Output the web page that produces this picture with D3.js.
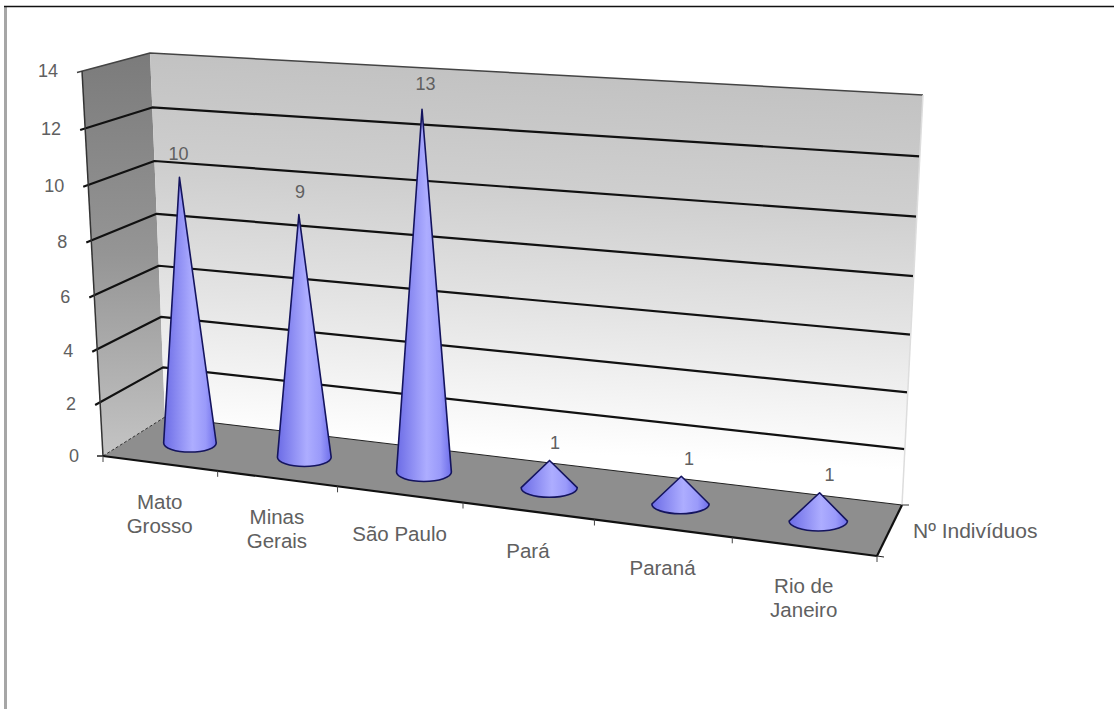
<!DOCTYPE html>
<html>
<head>
<meta charset="utf-8">
<script src="https://cdn.jsdelivr.net/npm/d3@7"></script>
<style>
  html, body { margin: 0; padding: 0; background: #fff; }
  svg { display: block; }
  text { font-family: "Liberation Sans", Arial, sans-serif; fill: #606060; }
</style>
</head>
<body>
<div id="chart"></div>
<script>
// Valeurs du graphique
const categories = ["Mato Grosso", "Minas Gerais", "São Paulo", "Pará", "Paraná", "Rio de Janeiro"];
const categoryLines = [["Mato", "Grosso"], ["Minas", "Gerais"], ["São Paulo"], ["Pará"], ["Paraná"], ["Rio de", "Janeiro"]];
const individuos = [10, 9, 13, 1, 1, 1];
const yTicks = [0, 2, 4, 6, 8, 10, 12, 14];
const seriesName = "Nº Indivíduos";

const width = 1114, height = 709;

const svg = d3.select("#chart").append("svg")
    .attr("width", width)
    .attr("height", height);

// Boite 3D : coins du sol et du plafond [avant-gauche, avant-droit, fond-gauche, fond-droit]
const floorBox = [[103, 456], [877, 556], [165, 417], [902, 505]];
const topBox = [[82, 71], [903, 123], [150, 53], [923, 95]];

// Échelles
const xScale = d3.scaleLinear().domain([0, categories.length]).range([0, 1]);
const yScale = d3.scaleLinear().domain([0, 14]).range([0, 1]);

// raccourci de perspective le long d'un axe
const fore = (t, r) => t / (r - (r - 1) * t);

function bilerp(box, a, w) {
    const f = [box[0][0] + (box[1][0] - box[0][0]) * a, box[0][1] + (box[1][1] - box[0][1]) * a];
    const b = [box[2][0] + (box[3][0] - box[2][0]) * a, box[2][1] + (box[3][1] - box[2][1]) * a];
    return [f[0] + (b[0] - f[0]) * w, f[1] + (b[1] - f[1]) * w];
}

// position écran pour (position sur l'axe x, profondeur, valeur)
function project(x, w, value) {
    const a = fore(xScale(x), 1.15);
    const t = fore(yScale(value), 1.055);
    const p0 = bilerp(floorBox, a, w);
    const p1 = bilerp(topBox, a, w);
    return [p0[0] + (p1[0] - p0[0]) * t, p0[1] + (p1[1] - p0[1]) * t];
}

const n = categories.length;
const line = d3.line();
const defs = svg.append("defs");

function linearGradient(id, coords, stops) {
    const g = defs.append("linearGradient").attr("id", id);
    Object.entries(coords).forEach(([k, v]) => g.attr(k, v));
    stops.forEach(s => g.append("stop").attr("offset", s[0]).attr("stop-color", s[1]));
}

linearGradient("backWall", { gradientUnits: "userSpaceOnUse", x1: 520, y1: 70, x2: 500, y2: 470 },
    [[0, "#c2c2c2"], [0.3, "#cfcfcf"], [0.6, "#e4e4e4"], [0.95, "#ffffff"]]);
linearGradient("sideWall", { x1: 0, y1: 0, x2: 0, y2: 1 },
    [[0, "#7b7b7b"], [0.5, "#959595"], [1, "#c4c4c4"]]);
linearGradient("coneFill", { x1: 0, y1: 0, x2: 1, y2: 0 },
    [[0, "#6c6ce6"], [0.55, "#adadff"], [0.8, "#9a9afa"], [1, "#6e6eea"]]);

// Cadre
svg.append("rect").attr("x", 4).attr("y", 6).attr("width", 3).attr("height", height - 6).attr("fill", "#a6a6a6");
svg.append("line").attr("x1", 4).attr("x2", width).attr("y1", 6.5).attr("y2", 6.5)
    .attr("stroke", "#111").attr("stroke-width", 1.5);

// Parois et sol
const sideWall = [project(0, 0, 14), project(0, 1, 14), project(0, 1, 0), project(0, 0, 0)];
const backWall = [project(0, 1, 14), project(n, 1, 14), project(n, 1, 0), project(0, 1, 0)];
const floor = [project(0, 0, 0), project(n, 0, 0), project(n, 1, 0), project(0, 1, 0)];

svg.append("path").attr("d", line(sideWall) + "Z").attr("fill", "url(#sideWall)");
svg.append("path").attr("d", line(backWall) + "Z").attr("fill", "url(#backWall)");
svg.append("path").attr("d", line(floor) + "Z").attr("fill", "#8e8e8e");

// Lignes horizontales
const grid = svg.append("g").attr("fill", "none").attr("stroke-linejoin", "round");
yTicks.filter(v => v > 0).forEach(v => {
    const pts = [project(0, 0, v), project(0, 1, v), project(n, 1, v)];
    pts[0] = [pts[0][0] - 5, pts[0][1] + 1.5];
    grid.append("path").attr("d", line(pts))
        .attr("stroke", v === 14 ? "#444" : "#111")
        .attr("stroke-width", v === 14 ? 1.5 : 2.2);
});

// Arêtes de la boite
const edge = (a, b, color, sw, dash) => svg.append("line")
    .attr("x1", a[0]).attr("y1", a[1]).attr("x2", b[0]).attr("y2", b[1])
    .attr("stroke", color).attr("stroke-width", sw).attr("stroke-dasharray", dash || null);

edge(project(0, 0, 14), project(0, 0, 0), "#333", 1.5);
edge(project(0, 0, 0), project(0, 1, 0), "#333", 1, "3,2");
edge(project(0, 1, 0), project(n, 1, 0), "#222", 1);
edge(project(n, 1, 14), project(n, 1, 0), "#dddddd", 1.5);
edge(project(0, 0, 0), project(n, 0, 0), "#111", 2.2);
edge(project(n, 0, 0), project(n, 1, 0), "#111", 2.2);

// Graduations
yTicks.forEach(v => {
    const p = project(0, 0, v);
    if (v === 0) edge([p[0] - 6, p[1]], p, "#222", 1.5);
    svg.append("text")
        .attr("x", p[0] - 24)
        .attr("y", p[1])
        .attr("dy", "0.36em")
        .attr("text-anchor", "end")
        .style("font-size", "18px")
        .text(v);
});
d3.range(n + 1).forEach(i => {
    const p = project(i, 0, 0);
    edge(p, [p[0], p[1] + 6], "#444", 1);
});
const br = project(n, 1, 0);
edge(br, [br[0] + 7, br[1]], "#333", 1);
const fr = project(n, 0, 0);
edge(fr, [fr[0] + 7, fr[1] + 1], "#222", 1);

// Étiquettes des catégories
categoryLines.forEach((lines, i) => {
    const p = project(i + 0.5, 0, 0);
    const two = lines.length > 1;
    const label = svg.append("text")
        .attr("text-anchor", "middle")
        .attr("transform", "translate(" + p[0] + "," + (p[1] + (two ? 46 : 47)) + ")")
        .style("font-size", "20.5px");
    lines.forEach((l, k) => label.append("tspan").attr("x", 0).attr("y", k * 24).text(l));
});

svg.append("text").attr("x", 913).attr("y", 538)
    .style("font-size", "21px").text(seriesName);

// Cônes
individuos.forEach((v, i) => {
    const base = project(i + 0.5, 0.51, 0);
    const tip = project(i + 0.5, 0.51, v);
    const rx = 26 + 3.5 * xScale(i + 0.5);
    const ry = 9 + xScale(i + 0.5);
    const d = "M" + tip[0] + "," + tip[1] +
        "L" + (base[0] - rx) + "," + base[1] +
        "A" + rx + "," + ry + " 0 0 0 " + (base[0] + rx) + "," + base[1] + "Z";
    svg.append("path").attr("d", d)
        .attr("fill", "url(#coneFill)")
        .attr("stroke", "#14145e")
        .attr("stroke-width", 1.6)
        .attr("stroke-linejoin", "round");

    svg.append("text")
        .attr("x", tip[0] - 2 + 13 * xScale(i + 0.5))
        .attr("y", tip[1] - 17.5 - 0.6 * v)
        .attr("dy", "0.36em")
        .attr("text-anchor", "middle")
        .style("font-size", "18px")
        .text(v);
});
</script>
</body>
</html>
